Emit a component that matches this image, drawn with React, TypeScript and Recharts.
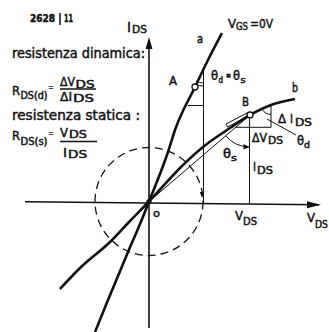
import React from 'react';
import { ComposedChart, Line, XAxis, YAxis, ReferenceLine, ReferenceDot } from 'recharts';

// Units: V_DS and I_DS in arbitrary divisions, origin at O
const X_DOMAIN: [number, number] = [-14.9, 18.0];
const Y_DOMAIN: [number, number] = [-13.05, 20.15];

// Characteristic "a" (steep)
const curveA = [
  { x: -5.4, y: -13.05 }, { x: -4.1, y: -9.85 }, { x: -2.1, y: -5.05 }, { x: -0.9, y: -2.25 },
  { x: 0, y: 0 }, { x: 1.9, y: 4.95 }, { x: 2.6, y: 7.15 }, { x: 4.6, y: 11.45 },
  { x: 6.0, y: 14.35 }, { x: 7.3, y: 16.85 },
];
// Characteristic "b" (V_GS = 0 V)
const curveB = [
  { x: -8.9, y: -8.75 }, { x: -6.9, y: -6.65 }, { x: -3.9, y: -4.05 }, { x: -1.9, y: -1.95 },
  { x: 0, y: 0 }, { x: 3.4, y: 3.65 }, { x: 5.4, y: 5.45 }, { x: 8.1, y: 7.35 },
  { x: 10.1, y: 8.65 }, { x: 12.2, y: 9.65 }, { x: 14.6, y: 10.25 },
];
// static secant O -> B
const secantB = [{ x: 0, y: 0 }, { x: 10.1, y: 8.65 }];
// tangent ruler at B
const tangentRuler = [
  { x: 7.7, y: 7.75 }, { x: 9.8, y: 8.85 }, { x: 9.95, y: 8.55 }, { x: 7.85, y: 7.45 }, { x: 7.7, y: 7.75 },
];
const pointA = { x: 4.6, y: 11.45 };
const pointB = { x: 10.1, y: 8.65 };
const cornerA = { x: 5.45, y: 13.45 };
const cornerB = { x: 12.2, y: 9.7 };
const deltaV = { x1: 8.7, x2: 12.2, y: 7.42 };
const footA = { x: 5.45, y: -0.15 };
const footB = { x: 10.05, y: -0.2 };
const axisY = { y1: -12.65, y2: 15.4, tip: 16.45 };
const axisX = { x1: -12.4, y1: -0.02, x2: 17.0, y2: -0.33, tip: 17.2 };

const INK = '#111';
const FONT = "'DejaVu Sans Condensed', 'DejaVu Sans', sans-serif";

const arrowUp = (p: any) => (
  <polygon points={`${p.cx},${p.cy} ${p.cx - 3.5},${p.cy + 12} ${p.cx + 3.5},${p.cy + 12}`} fill={INK} />
);
const arrowRight = (p: any) => (
  <polygon points={`${p.cx},${p.cy} ${p.cx - 14},${p.cy - 3.5} ${p.cx - 14},${p.cy + 3.5}`} fill={INK} />
);
const arrowDownSmall = (p: any) => (
  <polygon points={`${p.cx},${p.cy + 3} ${p.cx - 2.2},${p.cy - 3} ${p.cx + 2.2},${p.cy - 3}`} fill={INK} />
);
const hollow = (p: any) => <circle cx={p.cx} cy={p.cy} r={3} fill="#fff" stroke={INK} strokeWidth={1.3} />;
const solid = (p: any) => <circle cx={p.cx} cy={p.cy} r={2.6} fill={INK} />;
const dashedCircle = (p: any) => (
  <circle cx={p.cx} cy={p.cy} r={54} fill="none" stroke={INK} strokeWidth={1.3} strokeDasharray="8 5" />
);
const thetaSArc = (p: any) => {
  const r = 32;
  const a = (139.4 * Math.PI) / 180;
  const sx = p.cx + r * Math.cos(a);
  const sy = p.cy + r * Math.sin(a);
  return (
    <g>
      <path d={`M${sx},${sy} A${r},${r} 0 0 0 ${p.cx - 0.5},${p.cy + r}`} fill="none" stroke={INK} strokeWidth={1} />
      <polygon points={`${p.cx - 0.5},${p.cy + r} ${p.cx - 6.5},${p.cy + r - 3} ${p.cx - 6.5},${p.cy + r + 2.5}`} fill={INK} />
    </g>
  );
};
const thetaDArc = (p: any) => {
  const r = 10;
  const a = (148 * Math.PI) / 180;
  return (
    <path d={`M${p.cx},${p.cy + r} A${r},${r} 0 0 1 ${p.cx + r * Math.cos(a)},${p.cy + r * Math.sin(a)}`} fill="none" stroke={INK} strokeWidth={1} />
  );
};
const thetaAArc = (p: any) => {
  const arc = (r: number) => {
    const a = (117 * Math.PI) / 180;
    return `M${p.cx},${p.cy + r} A${r},${r} 0 0 1 ${p.cx + r * Math.cos(a)},${p.cy + r * Math.sin(a)}`;
  };
  return (
    <g fill="none" stroke={INK} strokeWidth={1}>
      <path d={arc(16)} />
      <path d={arc(19)} />
    </g>
  );
};

type TP = { x: number; y: number; s?: number; len?: number; w?: any; children: React.ReactNode };
const T = ({ x, y, s = 13, len, w = 'normal', children }: TP) => (
  <text
    x={x}
    y={y}
    fontSize={s}
    fontFamily={FONT}
    fontWeight={w}
    fill={INK}
    stroke={INK}
    strokeWidth={0.45}
    textLength={len}
    lengthAdjust={len ? 'spacingAndGlyphs' : undefined}
  >
    {children}
  </text>
);

const Overlay = () => (
  <svg width={329} height={332} style={{ position: 'absolute', left: 0, top: 0, pointerEvents: 'none' }}>
    <T x={30} y={22} s={10} len={25} w="bold">2628</T>
    <line x1={60} y1={13} x2={60} y2={25} stroke={INK} strokeWidth={1.5} />
    <T x={64} y={22} s={10} len={9} w="bold">11</T>

    <T x={12} y={58} s={14} len={133}>resistenza dinamica:</T>
    <T x={12} y={94.5} len={8}>R</T>
    <T x={20.5} y={99} s={10} len={27}>DS(d)</T>
    <T x={48.5} y={90} s={9} len={5}>=</T>
    <T x={60} y={86} s={12} len={15}>ΔV</T>
    <T x={75.5} y={87.5} s={10} len={19}>DS</T>
    <line x1={60} y1={89} x2={96} y2={89} stroke={INK} strokeWidth={1.3} />
    <T x={60} y={101} s={12} len={12}>ΔI</T>
    <T x={73} y={101.5} s={10} len={21}>DS</T>

    <T x={12} y={120} s={14} len={128}>resistenza statica :</T>
    <T x={12} y={140} len={8}>R</T>
    <T x={20.5} y={145} s={10} len={27}>DS(s)</T>
    <T x={48.5} y={136} s={9} len={5}>=</T>
    <T x={60} y={137} s={12} len={8}>V</T>
    <T x={69} y={138} s={10} len={18}>DS</T>
    <line x1={60} y1={141.5} x2={97} y2={141.5} stroke={INK} strokeWidth={1.3} />
    <T x={63} y={157} s={12} len={4}>I</T>
    <T x={68} y={157.5} s={10} len={19}>DS</T>

    <T x={127} y={32} s={14} len={4}>I</T>
    <T x={132} y={32.5} s={10} len={15}>DS</T>

    <T x={197} y={43} s={12} len={6}>a</T>
    <T x={228} y={28} len={8}>V</T>
    <T x={236} y={30} s={10} len={12}>GS</T>
    <T x={250} y={28} len={23}>=0V</T>
    <T x={169} y={85} len={8}>A</T>

    <T x={211} y={80} len={7}>θ</T>
    <T x={218.5} y={82.5} s={8} len={4.5}>d</T>
    <T x={226} y={78.5} s={11} len={5} w="bold">=</T>
    <T x={233} y={80} len={7}>θ</T>
    <T x={240.5} y={82.5} s={8} len={5}>s</T>

    <T x={292} y={92} s={12} len={6}>b</T>
    <T x={242} y={106} len={7}>B</T>
    <T x={278} y={123} s={12} len={8}>Δ</T>
    <T x={290} y={123} len={3}>I</T>
    <T x={295} y={125.5} s={10} len={17}>DS</T>
    <T x={252} y={142} s={12} len={15}>ΔV</T>
    <T x={268} y={144} s={10} len={15}>DS</T>
    <T x={297} y={145} len={7}>θ</T>
    <T x={304} y={148} s={9} len={6}>d</T>
    <T x={223} y={158} len={8}>θ</T>
    <T x={231} y={161} s={9} len={6}>s</T>
    <T x={253} y={171} len={3}>I</T>
    <T x={257} y={173.5} s={10} len={16}>DS</T>

    <T x={153} y={217} s={11} len={7}>o</T>
    <T x={235} y={220} len={8}>V</T>
    <T x={243} y={225} s={10} len={14}>DS</T>
    <T x={307} y={222} len={8}>V</T>
    <T x={315} y={228} s={10} len={13}>DS</T>
  </svg>
);

export default function App() {
  const seg = (x1: number, y1: number, x2: number, y2: number, w = 1, key?: string) => (
    <ReferenceLine
      key={key}
      segment={[{ x: x1, y: y1 }, { x: x2, y: y2 }]}
      stroke={INK}
      strokeWidth={w}
      ifOverflow="visible"
    />
  );
  const lineProps = { dot: false, activeDot: false, isAnimationActive: false, stroke: INK, legendType: 'none' as const };
  return (
    <div style={{ position: 'absolute', left: 0, top: 0, width: 329, height: 332, background: '#fff' }}>
      <ComposedChart width={329} height={332} margin={{ top: 0, right: 0, bottom: 0, left: 0 }}>
        <XAxis type="number" dataKey="x" domain={X_DOMAIN} allowDataOverflow hide />
        <YAxis type="number" dataKey="y" domain={Y_DOMAIN} allowDataOverflow hide />

        {seg(0, axisY.y1, 0, axisY.y2, 1.6, 'ay')}
        {seg(axisX.x1, axisX.y1, axisX.x2, axisX.y2, 1.6, 'ax')}
        {seg(cornerA.x, cornerA.y, footA.x, footA.y, 1, 'va')}
        {seg(3.9, 9.6, cornerA.x, 9.6, 1, 'ha')}
        {seg(footB.x, 8.25, footB.x, footB.y, 1, 'vb')}
        {seg(deltaV.x1, deltaV.y, deltaV.x2, deltaV.y, 1, 'dv')}
        {seg(cornerB.x, cornerB.y, cornerB.x, deltaV.y, 1, 'di')}
        {seg(11.8, 8.25, 14.7, 6.65, 1, 'ld')}

        <ReferenceDot x={0} y={0} r={54} shape={dashedCircle} ifOverflow="visible" />
        <ReferenceDot x={5.3} y={0.65} shape={arrowDownSmall} ifOverflow="visible" />

        <Line data={secantB} dataKey="y" type="linear" strokeWidth={1} {...lineProps} />
        <Line data={tangentRuler} dataKey="y" type="linear" strokeWidth={1} fill="none" {...lineProps} />
        <Line data={curveA} dataKey="y" type="monotone" strokeWidth={2.6} {...lineProps} />
        <Line data={curveB} dataKey="y" type="monotone" strokeWidth={2.6} {...lineProps} />

        <ReferenceDot x={0} y={axisY.tip} shape={arrowUp} ifOverflow="visible" />
        <ReferenceDot x={axisX.tip} y={axisX.y2} shape={arrowRight} ifOverflow="visible" />
        <ReferenceDot x={pointB.x} y={pointB.y} shape={thetaSArc} ifOverflow="visible" />
        <ReferenceDot x={cornerB.x} y={cornerB.y} shape={thetaDArc} ifOverflow="visible" />
        <ReferenceDot x={cornerA.x} y={cornerA.y} shape={thetaAArc} ifOverflow="visible" />
        <ReferenceDot x={pointA.x} y={pointA.y} shape={hollow} ifOverflow="visible" />
        <ReferenceDot x={pointB.x} y={pointB.y} shape={hollow} ifOverflow="visible" />
        <ReferenceDot x={0} y={0} shape={solid} ifOverflow="visible" />
      </ComposedChart>
      <Overlay />
    </div>
  );
}
